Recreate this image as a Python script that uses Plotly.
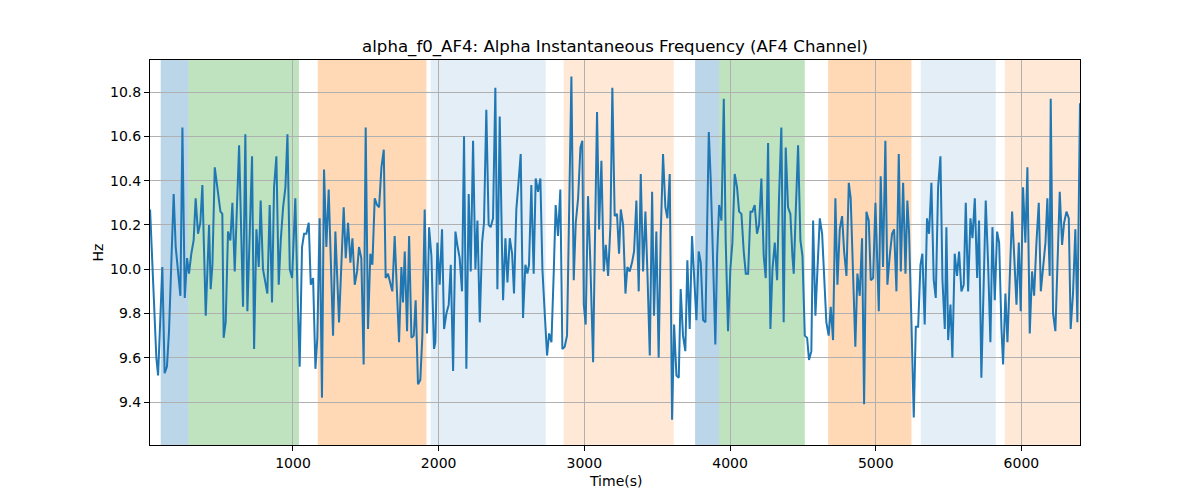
import plotly.graph_objects as go

title_text = "alpha_f0_AF4: Alpha Instantaneous Frequency (AF4 Channel)"

time_s = [19, 62, 74, 90, 103, 119, 135, 149, 165, 181, 195, 211, 227, 241, 257, 273, 286, 302, 318, 332,
          348, 364, 378, 401, 424, 435, 447, 463, 486, 502, 515, 524, 538, 554, 570, 584, 600, 630,
          657, 673, 687, 703, 719, 733, 749, 765, 778, 794, 810, 824, 840, 856, 870, 886, 902, 916, 932, 948,
          962, 978, 994, 1016, 1030, 1046, 1062, 1076, 1092, 1108, 1122, 1138, 1154, 1167, 1183, 1199, 1213,
          1229, 1245, 1259, 1275, 1291, 1303,
          1316, 1348, 1362, 1378, 1394, 1408, 1424, 1440, 1453, 1469, 1485, 1499, 1515, 1531, 1545, 1561, 1577,
          1591, 1607, 1623, 1636, 1652, 1668, 1682, 1698, 1714, 1728, 1744, 1755, 1767, 1783, 1797, 1813, 1829,
          1842, 1858, 1874, 1888, 1904, 1920, 1934, 1950,
          1968, 1977, 1991, 2007, 2023, 2037, 2053, 2069, 2083, 2099, 2115, 2128, 2144, 2160, 2174, 2190, 2206,
          2220, 2236, 2252, 2266, 2282, 2298, 2311, 2327, 2343, 2357, 2373, 2389, 2403, 2419, 2435, 2442, 2458,
          2472, 2488, 2504, 2517, 2533, 2549, 2563, 2579, 2595, 2609,
          2620, 2636, 2652, 2666, 2682, 2698, 2712, 2728, 2744, 2758, 2774, 2790, 2803, 2819, 2835, 2849, 2865,
          2881, 2895, 2911, 2927, 2941, 2957, 2973, 2986, 2996, 3009, 3025, 3041, 3060, 3071, 3087, 3101, 3117,
          3133, 3147, 3163, 3179, 3192, 3208, 3224, 3238,
          3250, 3266, 3282, 3295, 3311, 3327, 3341, 3357, 3373, 3387, 3403, 3419, 3433, 3449, 3465, 3478, 3494,
          3510, 3524, 3540, 3556, 3570, 3586, 3602, 3616, 3632, 3648, 3661, 3677, 3693, 3707, 3723, 3739, 3753,
          3769, 3785, 3799, 3815, 3831, 3854, 3867, 3883, 3899,
          3911, 3925, 3941, 3957, 3970, 3986, 4002, 4016, 4032, 4048, 4062, 4078, 4094, 4108, 4124, 4140, 4153,
          4169, 4185, 4199, 4215, 4231, 4245, 4261, 4277, 4291, 4307, 4323, 4336, 4352, 4368, 4382, 4398, 4414,
          4428, 4437, 4451, 4467, 4483, 4497, 4513, 4529, 4542, 4558,
          4570, 4586, 4600, 4616, 4632, 4645, 4661, 4677, 4691, 4707, 4723, 4737, 4753, 4769, 4783, 4799, 4815,
          4828, 4844, 4860, 4874, 4890, 4906, 4920, 4936, 4952, 4966, 4982, 4998, 5021, 5034, 5050, 5066, 5080,
          5096, 5112, 5126, 5142, 5158, 5172, 5188, 5204, 5217,
          5229, 5245, 5261, 5275, 5291, 5307, 5320, 5336, 5352, 5366, 5382, 5398, 5412, 5428, 5444, 5458, 5474,
          5485, 5497, 5513, 5526, 5542, 5558, 5572, 5588, 5604, 5618, 5634, 5650, 5664, 5680, 5696, 5709, 5725,
          5741, 5755, 5771, 5787, 5801, 5817, 5833, 5847, 5863,
          5874, 5890, 5904, 5936, 5950, 5966, 5982, 5995, 6011, 6027, 6041, 6057, 6073, 6087, 6103, 6119, 6133,
          6149, 6165, 6178, 6194, 6201, 6217, 6233, 6247, 6263, 6279, 6293, 6309, 6325, 6338, 6354, 6370, 6384,
          6402]

freq_hz = [10.27, 9.60, 9.52, 9.84, 10.01, 9.53, 9.56, 9.72, 10.05, 10.34, 10.10, 9.98, 9.88, 10.64, 9.87,
           10.05, 9.98, 10.07, 10.13, 10.32, 10.16, 10.21, 10.38, 9.79, 10.20, 9.91, 10.02, 10.46, 10.34, 10.26,
           10.25, 9.69, 9.76, 10.17, 10.13, 10.30, 9.99, 10.56,
           9.83, 10.61, 9.81, 10.15, 10.51, 9.64, 10.18, 10.01, 10.31, 10.00, 9.93, 9.89, 10.29, 9.85, 10.37,
           10.51, 9.93, 10.13, 10.28, 10.37, 10.61, 10.00, 9.96, 10.32, 9.92, 9.56, 10.10, 10.16, 10.16, 10.21,
           9.93, 9.96, 9.55, 9.69, 10.23, 9.42, 10.45, 10.10, 10.36, 10.08, 9.70, 10.17, 10.00,
           9.76, 10.28, 10.05, 10.21, 10.03, 10.14, 9.93, 9.99, 10.10, 10.05, 9.57, 10.64, 9.73, 10.07, 10.02,
           10.32, 10.29, 10.28, 10.46, 10.54, 9.96, 9.98, 9.94, 9.90, 10.15, 9.92, 9.67, 10.01, 9.85, 10.08,
           9.72, 10.15, 9.69, 9.70, 9.86, 9.48, 9.50, 9.70, 10.27, 9.71, 10.19, 10.06,
           9.64, 9.67, 10.12, 9.93, 10.18, 9.73, 9.80, 9.84, 10.02, 9.54, 10.17, 10.11, 10.05, 9.90, 10.60,
           9.55, 10.34, 9.99, 10.58, 10.00, 10.22, 9.76, 10.12, 10.21, 10.72, 10.20, 10.19, 10.23, 10.82, 9.91,
           10.69, 10.08, 9.86, 10.14, 9.94, 10.14, 10.07, 9.89, 10.27, 10.40, 10.52, 9.78, 10.02, 9.98,
           10.02, 10.38, 9.98, 10.41, 10.35, 10.41, 10.00, 9.80, 9.61, 9.71, 9.67, 9.99, 10.29, 10.15, 10.36,
           9.64, 9.65, 9.70, 10.25, 10.87, 9.95, 10.21, 10.32, 10.55, 10.58, 9.84, 9.75, 10.33, 10.03, 9.58,
           10.06, 10.71, 10.18, 10.49, 9.99, 10.11, 9.97, 10.20, 10.82, 10.24, 10.25, 10.07,
           10.27, 10.20, 9.89, 10.01, 9.99, 10.03, 10.08, 10.31, 9.90, 10.43, 9.99, 10.26, 9.98, 9.61, 10.35,
           9.79, 10.17, 9.60, 10.15, 10.52, 10.28, 10.23, 10.43, 9.32, 9.75, 9.52, 9.51, 9.91, 9.70, 9.63,
           10.04, 9.73, 10.15, 9.99, 9.77, 10.08, 10.03, 9.77, 9.76, 10.62, 10.41, 10.05, 9.66,
           10.06, 10.29, 10.22, 10.77, 10.13, 9.72, 10.00, 10.12, 10.43, 10.37, 10.26, 10.25, 10.08, 9.98, 9.98,
           10.26, 10.26, 10.29, 10.16, 10.20, 10.41, 10.06, 9.96, 10.57, 9.73, 10.00, 10.12, 9.95, 10.32, 10.64,
           9.76, 10.55, 10.28, 10.25, 10.06, 9.98, 10.26, 10.56, 10.13, 10.06, 9.70, 9.69, 9.59, 9.63,
           10.22, 9.79, 10.00, 10.23, 10.16, 10.00, 9.76, 9.70, 9.83, 9.68, 10.32, 9.93, 10.18, 10.24, 10.08,
           9.97, 10.39, 10.32, 9.99, 9.65, 9.98, 9.88, 10.14, 9.39, 10.26, 10.22, 9.95, 9.96, 10.30, 9.81,
           10.42, 10.01, 10.58, 9.93, 10.06, 10.16, 10.18, 9.90, 10.52, 9.99, 10.39, 9.98, 10.31,
           10.16, 9.76, 9.33, 9.74, 9.74, 10.02, 10.07, 9.75, 10.23, 10.16, 10.39, 9.95, 9.87, 10.37, 10.51,
           9.95, 9.73, 10.19, 9.68, 9.84, 9.60, 10.07, 9.97, 10.08, 9.90, 9.93, 10.30, 9.90, 10.23, 10.14,
           10.32, 9.96, 10.22, 9.51, 10.00, 10.31, 10.03, 9.67, 10.19, 9.86, 10.17, 10.12, 9.73,
           9.57, 9.89, 9.67, 10.26, 10.08, 9.84, 10.12, 9.81, 10.37, 10.12, 10.46, 9.71, 9.99, 9.88, 10.12,
           10.30, 9.90, 10.00, 10.12, 10.32, 9.97, 10.77, 9.80, 9.72, 10.06, 10.35, 10.11, 10.21, 10.26, 10.23,
           9.73, 9.89, 10.18, 9.76, 10.75]

region_start = [92, 282, 1170, 1945, 2858, 3760, 3925, 4673, 5309, 5886]
region_end = [282, 1041, 1916, 2735, 3614, 3925, 4513, 5245, 5824, 6420]
region_color = ["rgba(31,119,180,0.3)", "rgba(44,160,44,0.3)", "rgba(255,127,14,0.3)",
                "rgba(31,119,180,0.12)", "rgba(255,127,14,0.17)",
                "rgba(31,119,180,0.3)", "rgba(44,160,44,0.3)", "rgba(255,127,14,0.3)",
                "rgba(31,119,180,0.12)", "rgba(255,127,14,0.17)"]

x_ticks = [1000, 2000, 3000, 4000, 5000, 6000]
y_ticks = [9.4, 9.6, 9.8, 10.0, 10.2, 10.4, 10.6, 10.8]

fig = go.Figure()
for s, e, c in zip(region_start, region_end, region_color):
    fig.add_vrect(x0=s, x1=e, fillcolor=c, line_width=0, layer="below")

fig.add_trace(go.Scatter(x=time_s, y=freq_hz, mode="lines",
                         line=dict(color="#1f77b4", width=2), showlegend=False))

font = "DejaVu Sans, Arial, sans-serif"
axis_common = dict(showgrid=True, gridcolor="#b0b0b0", gridwidth=1,
                   showline=True, linecolor="black", linewidth=1, mirror=True,
                   ticks="outside", ticklen=5, tickwidth=1, tickcolor="black",
                   zeroline=False, tickfont=dict(family=font, size=14, color="black"))

# page body has an 8px margin, so the figure is 1192x492 and shifted by 8px
fig.update_layout(
    width=1192, height=492,
    margin=dict(l=142, r=120, t=52, b=55),
    paper_bgcolor="white", plot_bgcolor="white",
    title=dict(text=title_text, x=(615 - 8)/1192, xanchor="center", xref="container",
               y=1 - 38/492, yanchor="middle", yref="container",
               font=dict(family=font, size=16.6, color="black")),
    xaxis=dict(range=[18.5, 6402], tickvals=x_ticks, **axis_common),
    yaxis=dict(range=[9.206, 10.945], tickvals=y_ticks, tickformat=".1f", **axis_common),
    annotations=[
        dict(text="Time(s)", x=0.5, xref="paper", y=-36/385, yref="paper", yanchor="middle",
             xanchor="center", showarrow=False, font=dict(family=font, size=14, color="black")),
        dict(text="Hz", x=-53/930, xref="paper", y=0.5, yref="paper", textangle=-90,
             xanchor="center", yanchor="middle", showarrow=False,
             font=dict(family=font, size=14, color="black")),
    ],
)

fig.write_html("out.html")
